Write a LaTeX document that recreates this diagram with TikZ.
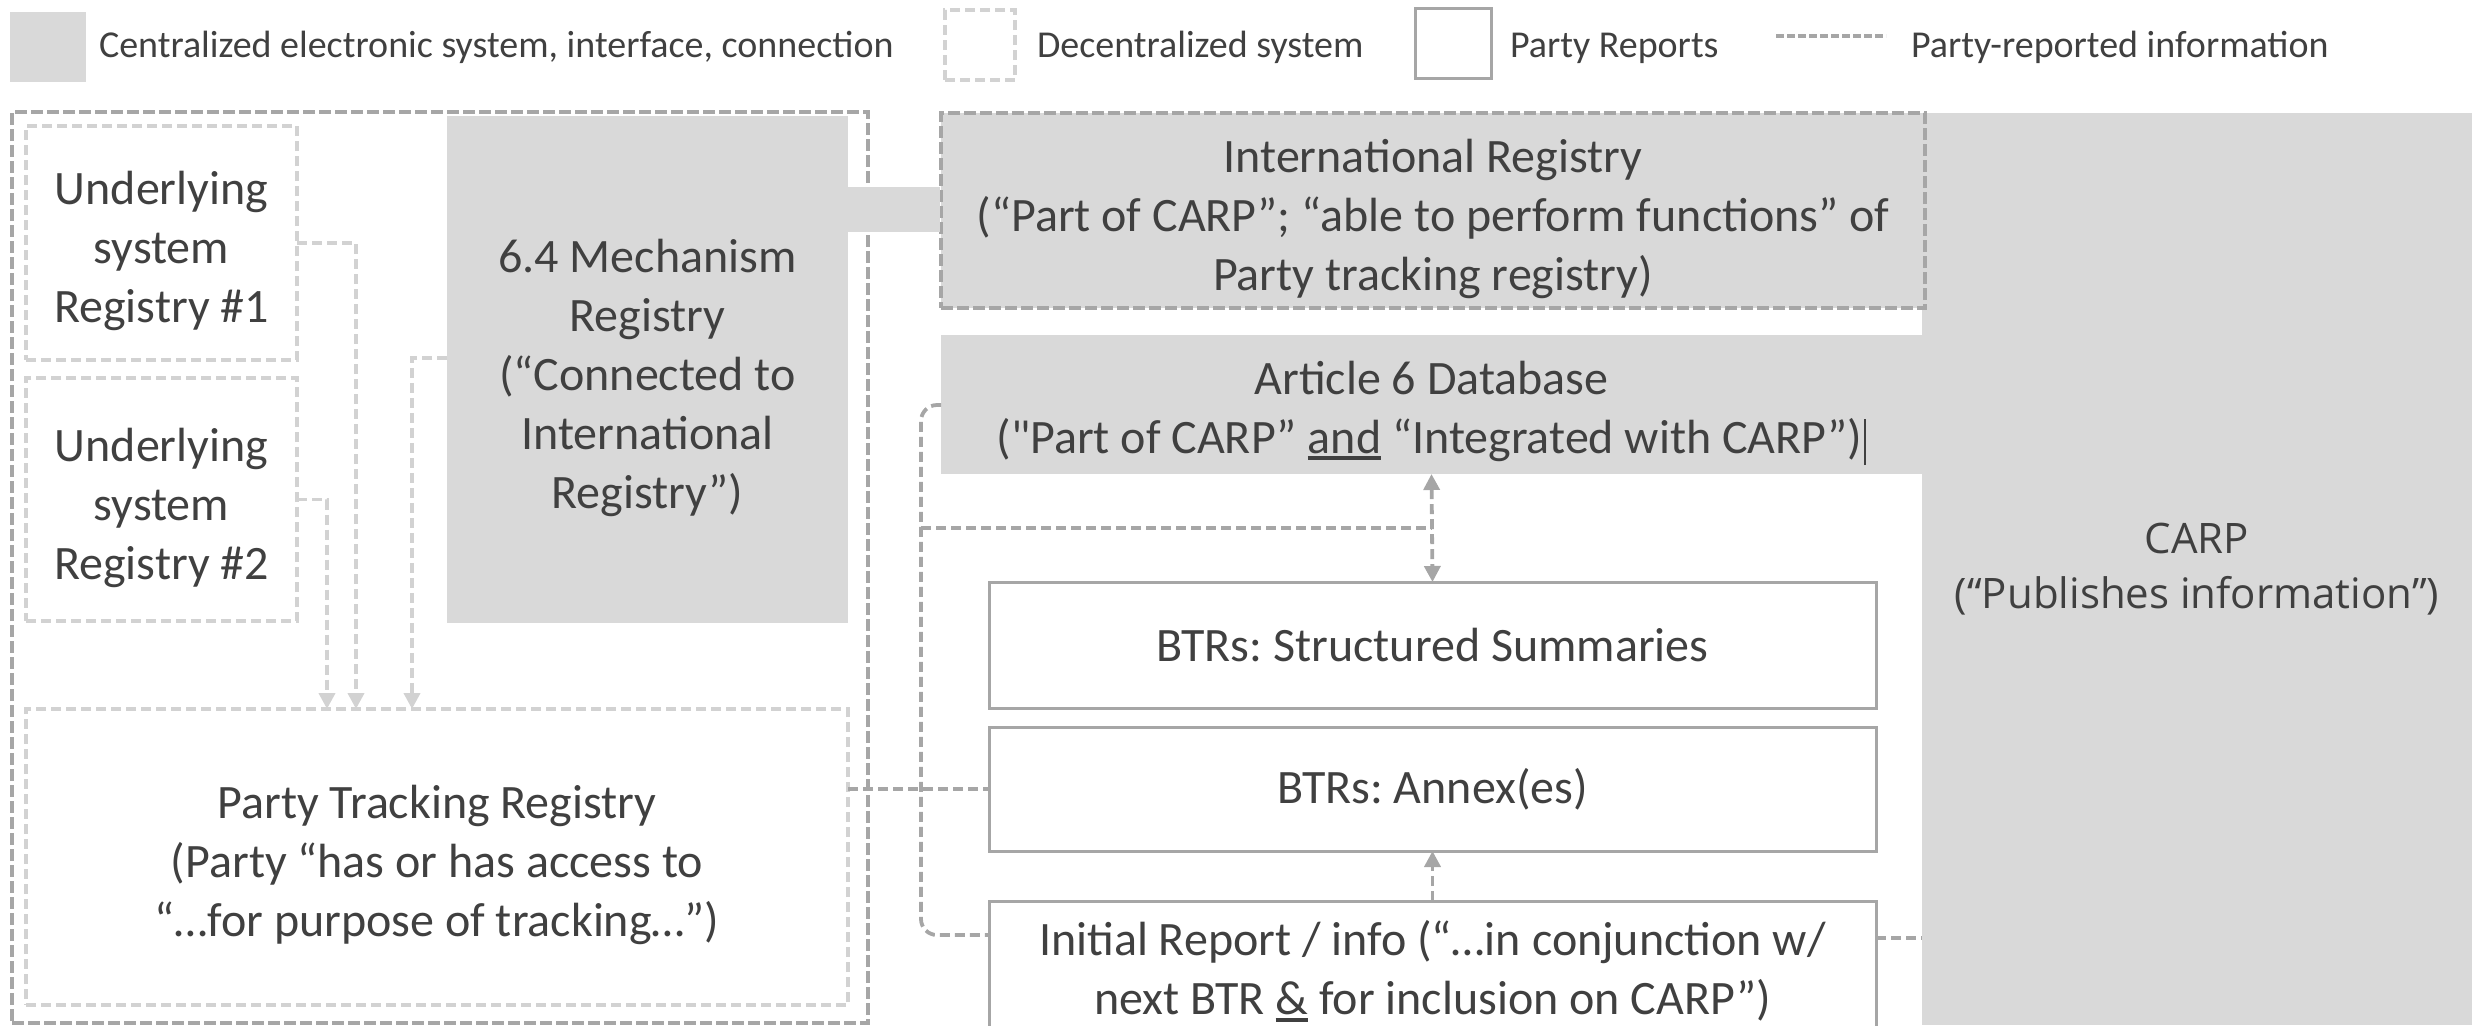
\documentclass[tikz,border=0pt]{standalone}
\usepackage{fontspec}
\setmainfont{Carlito}
\newfontfamily\rawcarlito[Ligatures=TeXOff]{Carlito}
\newfontfamily\carpfont{Open Sans}
\usetikzlibrary{arrows.meta,calc}
\definecolor{boxgray}{HTML}{D9D9D9}
\definecolor{edgegray}{HTML}{A6A6A6}
\definecolor{lightedge}{HTML}{D2D2D2}
\definecolor{ink}{HTML}{404040}
% thick underline used for emphasised words
\newcommand\strongul[1]{\vtop{\hbox{#1}\kern1.5pt\hrule height 1.8pt}}
% invisible strut that gives the first line of a label some headroom
\newcommand\headroom{\rule{0pt}{25pt}}
% straight double quote, without the TeX quote mapping
\newcommand\straightquote{{\rawcarlito"}}
\frenchspacing
\begin{document}
\begin{tikzpicture}[x=0.5pt,y=-0.5pt,
  every node/.style={inner sep=0pt, outer sep=0pt, text=ink},
  central/.style={fill=boxgray, draw=none},
  decentral/.style={draw=lightedge, line width=2pt, dash pattern=on 5pt off 2.5pt},
  reportbox/.style={draw=edgegray, line width=1.5pt, fill=white},
  outerdash/.style={draw=edgegray, line width=2pt, dash pattern=on 6pt off 2pt},
  info/.style={draw=edgegray, line width=1.9pt, dash pattern=on 5pt off 2.5pt},
  feed/.style={draw=lightedge, line width=1.9pt, dash pattern=on 5pt off 2.5pt},
  bigtext/.style={font=\fontsize{24}{29.5}\selectfont, align=center},
  legendtext/.style={font=\fontsize{19}{22}\selectfont, anchor=base west},
  tipend/.style={-{Triangle[length=8pt,width=8pt]}},
  tipboth/.style={{Triangle[length=8pt,width=8pt]}-{Triangle[length=8pt,width=8pt]}}
]
\useasboundingbox (0,0) rectangle (2481,1025);
\clip (0,0) rectangle (2481,1025);

% ---- legend ----
\node[central, minimum width=38pt, minimum height=35pt] (keyC) at (48,47) {};
\node[legendtext] (keyCt) at (99,57) {Centralized electronic system, interface, connection};
\node[decentral, minimum width=35pt, minimum height=35pt] (keyD) at (980,45) {};
\node[legendtext] (keyDt) at (1037,57) {Decentralized system};
\node[reportbox, minimum width=38pt, minimum height=35pt] (keyR) at (1453,43) {};
\node[legendtext] (keyRt) at (1510,57) {Party Reports};
\coordinate (keyLa) at (1776,36);
\coordinate (keyLb) at (1886,36);
\draw[info, dash pattern=on 4pt off 1.5pt] (keyLa) -- (keyLb);
\node[legendtext] (keyLt) at (1911,57) {Party-reported information};

% ---- CARP column ----
\node[central, minimum width=275pt, minimum height=456pt,
      font=\carpfont\fontsize{21}{27.5}\selectfont, align=center] (carp) at (2197,569)
      {CARP\\(“Publishes information”)};

% ---- national side ----
\node[outerdash, minimum width=428pt, minimum height=455.5pt] (group) at (440,567.5) {};
\node[decentral, bigtext, minimum width=135.5pt, minimum height=117pt] (u1) at (161.5,243)
      {\headroom Underlying\\system\\Registry \#1};
\node[decentral, bigtext, minimum width=135.5pt, minimum height=121.5pt] (u2) at (161.5,499.5)
      {\headroom Underlying\\system\\Registry \#2};
\node[central, bigtext, minimum width=200.5pt, minimum height=253.5pt] (mech) at (647.5,369.5)
      {\headroom 6.4 Mechanism\\Registry\\(“Connected to\\International\\Registry”)};
\node[decentral, bigtext, minimum width=411pt, minimum height=148pt] (ptr) at (437,857)
      {\headroom Party Tracking Registry\\(Party “has or has access to\\“…for purpose of tracking…”)};

% ---- international registry and database ----
\node[central, outerdash, fill=boxgray, bigtext, minimum width=492pt, minimum height=97.5pt] (ir) at (1433,210.5)
      {\headroom International Registry\\(“Part of CARP”; “able to perform functions” of\\Party tracking registry)};
\fill[boxgray] ($(mech.north east)+(-1,71)$) rectangle ($(ir.north west)+(-1,119)$);
\node[central, bigtext, minimum width=490.5pt, minimum height=69.5pt] (adb) at (1431.5,404.5)
      {\headroom Article 6 Database\\(\straightquote Part of CARP” \strongul{and} “Integrated with CARP”)\kern1pt\rule[-6pt]{1pt}{23pt}};

% ---- party reports ----
\node[reportbox, bigtext, minimum width=443.5pt, minimum height=63pt] (btrss) at (1432.5,645)
      {BTRs: Structured Summaries};
\node[reportbox, bigtext, minimum width=443.5pt, minimum height=62pt] (annex) at (1432.5,789)
      {BTRs: Annex(es)};
\node[reportbox, bigtext, anchor=north, minimum width=443.5pt, minimum height=70pt] (init) at (1432.5,901)
      {Initial Report / info (“…in conjunction w/\\next BTR \strongul{\&} for inclusion on CARP”)};

% ---- feeds into the party tracking registry ----
\draw[feed, tipend] (u1.east) -| ($(ptr.north west)+(330,0)$);
\draw[feed, tipend] (u2.east) -| ($(ptr.north west)+(301,0)$);
\draw[feed, tipend] ($(mech.west)+(0,-11.5)$) -| ($(ptr.north west)+(386,0)$);

% ---- party-reported information flows ----
\draw[info] (annex.west -| ptr.east) -- (annex.west);
\draw[info, tipboth] (adb.south) -- (btrss.north);
\draw[info, tipend] (init.north) -- (annex.south);
\coordinate (spine) at (921,0);
\coordinate (dbtap) at ($(adb.north west)+(0,70)$);
\coordinate (inittap) at ($(init.north west)+(0,34)$);
\draw[info, rounded corners=8pt] (dbtap) -| (spine |- inittap) -- (inittap);
\coordinate (tee) at ($(adb.south)!0.5!(btrss.north)$);
\draw[info] (spine |- tee) -- (tee);
\coordinate (initout) at ($(init.north east)+(0,37)$);
\draw[info] (initout) -- (initout -| carp.west);
\end{tikzpicture}
\end{document}
